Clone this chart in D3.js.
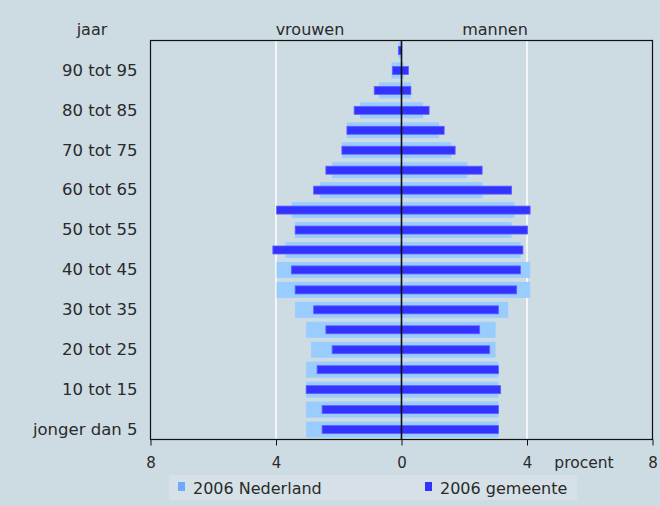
<!DOCTYPE html>
<html><head><meta charset="utf-8">
<script src="https://cdn.jsdelivr.net/npm/d3@7/dist/d3.min.js"></script>
<style>
html,body{margin:0;padding:0;background:#cddce2;}
svg{display:block;font-family:"DejaVu Sans",sans-serif;}
</style></head><body>
<script>
// age groups, youngest first
const categories = ["jonger dan 5","5 tot 10","10 tot 15","15 tot 20","20 tot 25","25 tot 30","30 tot 35","35 tot 40","40 tot 45","45 tot 50","50 tot 55","55 tot 60","60 tot 65","65 tot 70","70 tot 75","75 tot 80","80 tot 85","85 tot 90","90 tot 95","95 en ouder"];
const tickLabels = ["jonger dan 5","10 tot 15","20 tot 25","30 tot 35","40 tot 45","50 tot 55","60 tot 65","70 tot 75","80 tot 85","90 tot 95"];
const nlVrouwen  = [3.04,3.04,3.04,3.04,2.88,3.04,3.39,3.98,3.98,3.70,3.39,3.50,2.60,2.22,1.90,1.74,1.32,0.72,0.32,0.10];
const nlMannen   = [3.09,3.09,3.09,3.09,3.00,3.00,3.40,4.10,4.10,3.80,3.51,3.60,2.58,2.10,1.59,1.20,0.69,0.30,0.08,0.03];
const gemVrouwen = [2.53,2.53,3.04,2.69,2.21,2.41,2.80,3.39,3.51,4.10,3.39,3.98,2.80,2.41,1.90,1.74,1.51,0.87,0.29,0.10];
const gemMannen  = [3.09,3.09,3.16,3.09,2.81,2.49,3.09,3.67,3.79,3.87,4.02,4.10,3.51,2.57,1.71,1.36,0.88,0.30,0.22,0.00];
const xTicks = [-8,-4,0,4,8];
const seriesNames = ["2006 Nederland","2006 gemeente"];

(function(){
const W=660,H=506;
const mLeft=150.5,mRight=652.5,mTop=40.5,mBottom=439.5;
const txt="#2a2a2a";
const svg=d3.select("body").append("svg").attr("width",W).attr("height",H);
svg.append("rect").attr("width",W).attr("height",H).attr("fill","#cddce2");

const x=d3.scaleLinear().domain([-8,8]).range([mLeft,mRight]);
const y=d3.scaleBand().domain(categories.slice().reverse()).range([mTop,mBottom]);
const bw=y.bandwidth();

svg.selectAll("line.grid").data([-4,4]).enter().append("line")
  .attr("x1",d=>x(d)).attr("x2",d=>x(d)).attr("y1",mTop).attr("y2",mBottom)
  .attr("stroke","#ffffff").attr("stroke-width",1.5);

const rows=categories.map((c,i)=>({c,nv:nlVrouwen[i],nm:nlMannen[i],gv:gemVrouwen[i],gm:gemMannen[i]}));
const lightH=16, darkH=8;
const g=svg.append("g");
g.selectAll("rect.nl").data(rows).enter().append("rect")
  .attr("x",d=>x(-d.nv)).attr("width",d=>x(d.nm)-x(-d.nv))
  .attr("y",d=>y(d.c)+(bw-lightH)/2).attr("height",lightH)
  .attr("fill","#99ccff");
g.selectAll("rect.gem").data(rows).enter().append("rect")
  .attr("x",d=>x(-d.gv)).attr("width",d=>Math.max(0,x(d.gm)-x(-d.gv)))
  .attr("y",d=>y(d.c)+(bw-darkH)/2).attr("height",darkH)
  .attr("fill","#3333ff").attr("stroke","#6060ff").attr("stroke-width",0.8);

svg.append("line").attr("x1",x(0)).attr("x2",x(0)).attr("y1",mTop).attr("y2",mBottom)
  .attr("stroke","#111").attr("stroke-width",1.6);

svg.append("rect").attr("x",mLeft).attr("y",mTop).attr("width",mRight-mLeft).attr("height",mBottom-mTop)
  .attr("fill","none").attr("stroke","#111").attr("stroke-width",1.2);

const xAxis=d3.axisBottom(x).tickValues(xTicks).tickSize(6).tickFormat(d=>Math.abs(d));
const ax=svg.append("g").attr("transform",`translate(0,${mBottom})`).call(xAxis);
ax.select(".domain").remove();
ax.selectAll(".tick line").attr("stroke","#111");
ax.selectAll(".tick text").attr("fill",txt).attr("font-size","15px").attr("y",28).attr("dy",0)
  .attr("font-family","DejaVu Sans");
svg.append("text").attr("x",584).attr("y",467.5).attr("text-anchor","middle")
  .attr("font-size","15.5px").attr("fill",txt).text("procent");

const yAxis=d3.axisLeft(y).tickValues(tickLabels).tickSize(0).tickPadding(13);
const ay=svg.append("g").attr("transform",`translate(${mLeft},0)`).call(yAxis);
ay.select(".domain").remove();
ay.selectAll(".tick text").attr("fill",txt).attr("font-size","16.5px").attr("font-family","DejaVu Sans");

svg.append("text").attr("x",92).attr("y",35).attr("text-anchor","middle").attr("font-size","16px").attr("fill",txt).text("jaar");
svg.append("text").attr("x",310).attr("y",35).attr("text-anchor","middle").attr("font-size","16px").attr("fill",txt).text("vrouwen");
svg.append("text").attr("x",495).attr("y",35).attr("text-anchor","middle").attr("font-size","16px").attr("fill",txt).text("mannen");

svg.append("rect").attr("x",169).attr("y",475).attr("width",408).attr("height",25).attr("fill","#d5e1e7");
const legColors=["#70a8ff","#3333ff"];
const legX=[178,425];
seriesNames.forEach((s,i)=>{
  svg.append("rect").attr("x",legX[i]).attr("y",482).attr("width",7).attr("height",9).attr("fill",legColors[i]);
  svg.append("text").attr("x",legX[i]+15).attr("y",494).attr("font-size","16px").attr("fill",txt).text(s);
});
})();
</script>
</body></html>
